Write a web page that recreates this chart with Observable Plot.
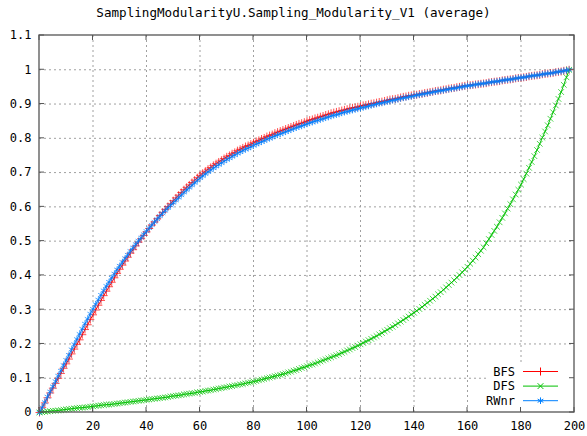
<!DOCTYPE html>
<html><head><meta charset="utf-8">
<script src="https://cdn.jsdelivr.net/npm/d3@7"></script>
<script src="https://cdn.jsdelivr.net/npm/@observablehq/plot@0.6"></script>
<style>
body{margin:0;background:#fff;}
#title{font-family:"DejaVu Sans Mono",monospace;font-size:12.6px;text-align:center;height:26px;line-height:26px;width:587px;color:#000;}
</style></head><body>
<div id="title">SamplingModularityU.Sampling_Modularity_V1 (average)</div>
<div id="chart"></div>
<script>
// sample index 0..198
const steps = d3.range(0, 199);
const seriesNames = ["BFS", "DFS", "RWnr"];
const seriesColors = ["#ff0000", "#00c000", "#0080ff"];
const seriesSymbols = ["plus", "times", "asterisk"];
const xTicks = [0, 20, 40, 60, 80, 100, 120, 140, 160, 180, 200];
const yTicks = [0, 0.1, 0.2, 0.3, 0.4, 0.5, 0.6, 0.7, 0.8, 0.9, 1, 1.1];

const bfs = [
0.000,0.014,0.028,0.043,0.057,0.071,0.085,0.100,0.114,0.129,
0.142,0.156,0.171,0.185,0.199,0.212,0.227,0.242,0.256,0.271,
0.285,0.299,0.313,0.327,0.341,0.354,0.367,0.380,0.393,0.406,
0.418,0.430,0.442,0.453,0.465,0.475,0.486,0.497,0.507,0.517,
0.527,0.537,0.547,0.556,0.565,0.575,0.584,0.593,0.601,0.609,
0.618,0.626,0.634,0.642,0.650,0.657,0.664,0.671,0.678,0.685,
0.692,0.698,0.704,0.710,0.715,0.721,0.726,0.731,0.736,0.741,
0.746,0.750,0.755,0.759,0.764,0.768,0.772,0.776,0.779,0.783,
0.787,0.791,0.794,0.798,0.801,0.805,0.808,0.811,0.815,0.818,
0.821,0.824,0.827,0.830,0.833,0.836,0.839,0.842,0.844,0.847,
0.850,0.853,0.855,0.858,0.860,0.863,0.865,0.868,0.870,0.873,
0.875,0.877,0.879,0.881,0.883,0.885,0.887,0.889,0.890,0.892,
0.894,0.896,0.897,0.899,0.901,0.902,0.904,0.906,0.907,0.909,
0.911,0.913,0.914,0.915,0.917,0.919,0.921,0.922,0.924,0.925,
0.926,0.927,0.929,0.930,0.932,0.933,0.935,0.936,0.938,0.939,
0.940,0.942,0.943,0.945,0.946,0.947,0.949,0.950,0.952,0.953,
0.954,0.955,0.956,0.957,0.958,0.959,0.960,0.961,0.963,0.964,
0.965,0.966,0.967,0.969,0.970,0.971,0.972,0.973,0.975,0.976,
0.977,0.978,0.979,0.981,0.982,0.983,0.984,0.985,0.987,0.988,
0.989,0.990,0.991,0.993,0.994,0.995,0.997,0.998,1.000];

const dfs = [
0.000,0.001,0.002,0.003,0.004,0.005,0.005,0.006,0.007,0.008,
0.009,0.010,0.011,0.012,0.013,0.014,0.014,0.015,0.016,0.017,
0.018,0.019,0.020,0.021,0.022,0.023,0.023,0.024,0.025,0.026,
0.027,0.028,0.029,0.030,0.031,0.032,0.033,0.034,0.035,0.036,
0.037,0.038,0.039,0.040,0.041,0.042,0.043,0.044,0.045,0.047,
0.048,0.049,0.050,0.051,0.053,0.054,0.055,0.056,0.057,0.059,
0.060,0.061,0.063,0.064,0.065,0.067,0.068,0.070,0.071,0.073,
0.074,0.076,0.077,0.079,0.080,0.082,0.083,0.085,0.087,0.088,
0.090,0.092,0.094,0.096,0.098,0.100,0.102,0.104,0.106,0.108,
0.110,0.112,0.114,0.117,0.119,0.122,0.124,0.127,0.130,0.132,
0.135,0.138,0.140,0.143,0.146,0.149,0.152,0.155,0.158,0.161,
0.164,0.167,0.170,0.174,0.177,0.181,0.184,0.188,0.191,0.195,
0.199,0.203,0.207,0.211,0.215,0.219,0.223,0.228,0.232,0.237,
0.241,0.246,0.250,0.255,0.260,0.265,0.270,0.275,0.280,0.286,
0.291,0.297,0.302,0.308,0.314,0.320,0.326,0.332,0.338,0.345,
0.351,0.358,0.365,0.372,0.379,0.386,0.394,0.401,0.409,0.417,
0.425,0.434,0.443,0.452,0.462,0.472,0.482,0.494,0.506,0.518,
0.530,0.542,0.555,0.568,0.581,0.595,0.608,0.622,0.636,0.650,
0.665,0.681,0.697,0.714,0.731,0.748,0.766,0.784,0.802,0.820,
0.838,0.857,0.876,0.896,0.915,0.935,0.956,0.978,1.000];

const rwnr = [
0.000,0.015,0.030,0.046,0.061,0.076,0.091,0.107,0.122,0.138,
0.153,0.168,0.184,0.199,0.214,0.229,0.244,0.259,0.273,0.288,
0.302,0.316,0.329,0.343,0.356,0.369,0.381,0.393,0.405,0.417,
0.428,0.439,0.450,0.460,0.471,0.481,0.491,0.501,0.510,0.520,
0.529,0.538,0.547,0.556,0.564,0.573,0.581,0.589,0.597,0.604,
0.612,0.619,0.627,0.634,0.642,0.649,0.656,0.663,0.670,0.677,
0.684,0.690,0.696,0.702,0.707,0.713,0.718,0.723,0.728,0.733,
0.738,0.742,0.747,0.751,0.756,0.760,0.764,0.768,0.771,0.775,
0.779,0.783,0.786,0.790,0.793,0.797,0.800,0.803,0.807,0.810,
0.813,0.816,0.819,0.822,0.825,0.828,0.831,0.834,0.836,0.839,
0.842,0.845,0.847,0.850,0.852,0.855,0.857,0.860,0.862,0.865,
0.867,0.869,0.871,0.874,0.876,0.878,0.880,0.882,0.884,0.886,
0.888,0.890,0.892,0.894,0.896,0.898,0.900,0.902,0.903,0.905,
0.907,0.909,0.911,0.912,0.914,0.916,0.918,0.919,0.921,0.922,
0.924,0.926,0.927,0.929,0.930,0.932,0.933,0.935,0.936,0.938,
0.939,0.940,0.942,0.943,0.945,0.946,0.947,0.949,0.950,0.952,
0.953,0.954,0.955,0.957,0.958,0.959,0.960,0.961,0.963,0.964,
0.965,0.966,0.967,0.969,0.970,0.971,0.972,0.973,0.975,0.976,
0.977,0.978,0.979,0.981,0.982,0.983,0.984,0.985,0.987,0.988,
0.989,0.990,0.991,0.993,0.994,0.995,0.997,0.998,1.000];

const seriesValues = [bfs, dfs, rwnr];
const tables = seriesValues.map(vals => steps.map((x, i) => ({x, y: vals[i]})));

const W = 587, H = 410;
const M = {top: 9, right: 13, bottom: 24, left: 39};
const FONT = "DejaVu Sans Mono, monospace";
const gridStyle = {stroke: "#a0a0a0", strokeOpacity: 1, strokeWidth: 1, strokeDasharray: "2,3"};

const marks = [
  Plot.gridX(xTicks.slice(1, -1), gridStyle),
  Plot.gridY(yTicks.slice(1, -1), gridStyle)
];
tables.forEach((t, i) => {
  marks.push(Plot.line(t, {x: "x", y: "y", stroke: seriesColors[i], strokeWidth: 1}));
  marks.push(Plot.dot(t, {x: "x", y: "y", symbol: seriesSymbols[i], stroke: seriesColors[i],
    r: i === 2 ? 3.1 : 2.7, strokeWidth: 1, strokeOpacity: 0.7}));
});
marks.push(Plot.axisX(xTicks, {label: null, tickSize: 0, tickPadding: 9, tickFormat: d => String(d), fontSize: 12, fill: "#000"}));
marks.push(Plot.axisY(yTicks, {label: null, tickSize: 0, tickPadding: 8, tickFormat: d => String(d), fontSize: 12, fill: "#000"}));

const chart = Plot.plot({
  width: W, height: H,
  marginTop: M.top, marginRight: M.right, marginBottom: M.bottom, marginLeft: M.left,
  style: {fontFamily: FONT, fontSize: "12px", background: "#fff", color: "#000"},
  x: {domain: [0, 200], label: null},
  y: {domain: [0, 1.1], label: null},
  marks
});
document.getElementById("chart").append(chart);

// gnuplot-style decorations: key box, inward ticks, border, legend
const svg = d3.select(chart);
const sx = chart.scale("x"), sy = chart.scale("y");
const L = M.left, R = W - M.right, T = M.top, B = H - M.bottom;

// key area (opaque)
svg.append("rect").attr("x", R - 87).attr("y", B - 50).attr("width", 86.5).attr("height", 49.5).attr("fill", "#fff");

const deco = svg.append("g").attr("stroke", "#555").attr("stroke-width", 1).attr("fill", "none");
const TL = 5;
xTicks.forEach(v => {
  const px = sx.apply(v);
  deco.append("line").attr("x1", px).attr("x2", px).attr("y1", B).attr("y2", B - TL);
  deco.append("line").attr("x1", px).attr("x2", px).attr("y1", T).attr("y2", T + TL);
});
yTicks.forEach(v => {
  const py = sy.apply(v);
  deco.append("line").attr("x1", L).attr("x2", L + TL).attr("y1", py).attr("y2", py);
  deco.append("line").attr("x1", R).attr("x2", R - TL).attr("y1", py).attr("y2", py);
});
deco.append("rect").attr("x", L).attr("y", T).attr("width", R - L).attr("height", B - T).attr("stroke-width", 1.3);

// legend
const leg = svg.append("g").attr("font-family", FONT).attr("font-size", 12);
const symbolFns = {plus: d3.symbolPlus, times: d3.symbolTimes, asterisk: d3.symbolAsterisk};
seriesNames.forEach((name, i) => {
  const y = B - 40.5 + i * 14.6;
  leg.append("text").attr("x", R - 59).attr("y", y).attr("dy", "0.35em").attr("text-anchor", "end").attr("fill", "#000").text(name);
  leg.append("line").attr("x1", R - 51).attr("x2", R - 16).attr("y1", y).attr("y2", y).attr("stroke", seriesColors[i]).attr("stroke-width", 1);
  leg.append("path").attr("transform", `translate(${R - 33.5},${y})`)
    .attr("d", d3.symbol(symbolFns[seriesSymbols[i]], i === 2 ? 30 : 23)())
    .attr("fill", "none").attr("stroke", seriesColors[i]).attr("stroke-width", 1);
});
</script></body></html>
